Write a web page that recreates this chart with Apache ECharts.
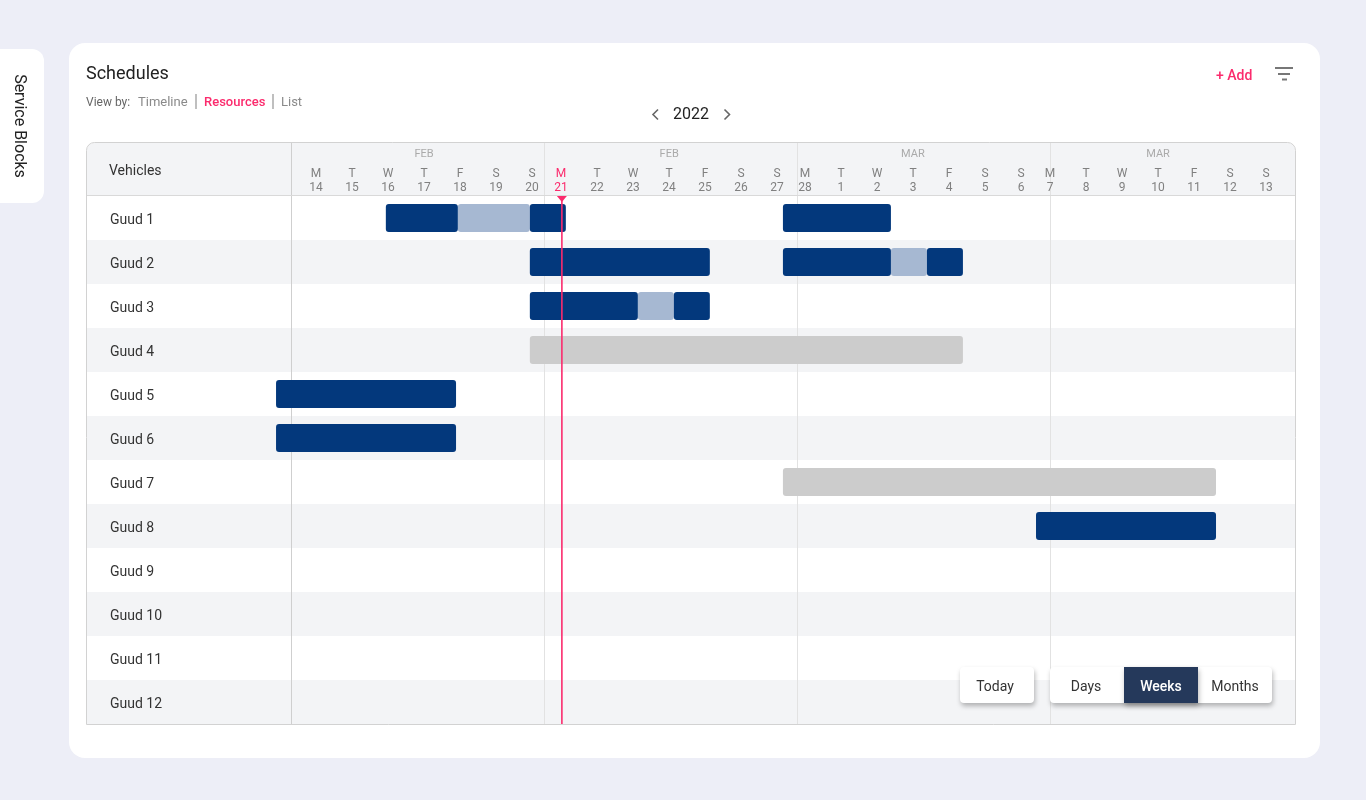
<!DOCTYPE html>
<html>
<head>
<meta charset="utf-8">
<title>Schedules</title>
<style>
  html, body { margin: 0; padding: 0; background: #edeef7; }
  #main { width: 1366px; height: 800px; }
</style>
<script src="https://cdn.jsdelivr.net/npm/echarts@6/dist/echarts.min.js"></script>
</head>
<body>
<div id="main"></div>
<script>
// rows
const vehicles = ['Guud 1', 'Guud 2', 'Guud 3', 'Guud 4', 'Guud 5', 'Guud 6', 'Guud 7', 'Guud 8', 'Guud 9', 'Guud 10', 'Guud 11', 'Guud 12'];

// header columns, one list per week
const weekDays = ['M', 'T', 'W', 'T', 'F', 'S', 'S'];
const dayNumbers = [
  [14, 15, 16, 17, 18, 19, 20],
  [21, 22, 23, 24, 25, 26, 27],
  [28, 1, 2, 3, 4, 5, 6],
  [7, 8, 9, 10, 11, 12, 13],
];
const monthNames = ['FEB', 'FEB', 'MAR', 'MAR'];

// segments: [row, from, to], time in days counted from monday the 14th
const bookedBars = [
  [0, 1.94, 3.94], [0, 5.94, 6.94], [0, 12.97, 15.97],
  [1, 5.94, 10.94], [1, 12.97, 15.97], [1, 16.97, 17.97],
  [2, 5.94, 8.94], [2, 9.94, 10.94],
  [4, -1.11, 3.89],
  [5, -1.11, 3.89],
  [7, 20, 25],
];
const gapBars = [
  [0, 3.94, 5.94],
  [1, 15.97, 16.97],
  [2, 8.94, 9.94],
];
const idleBars = [
  [3, 5.94, 17.97],
  [6, 12.97, 25],
];
const todayMarker = [6.83];

// the week columns are wider than seven days, so each one has its own start
const weekLines = [-0.695, 6.333, 13.361, 20.389];
const weekLabelStart = [0, 6.806, 13.583, 20.389];
const monthCenters = [3, 9.81, 16.58, 23.39];

const PINK = '#fb2b6d';
const FONT = 'Roboto';
const xMin = -6.361;
const xMax = 27.194;

const dayValues = [];
const dayLabels = {};
weekLabelStart.forEach(function (start, w) {
  weekDays.forEach(function (letter, i) {
    const v = start + i;
    dayValues.push(v);
    dayLabels[v] = letter + '\n' + dayNumbers[w][i];
  });
});
const monthLabels = {};
monthCenters.forEach(function (v, i) { monthLabels[v] = monthNames[i]; });

const chart = echarts.init(document.getElementById('main'));

function renderSegment(params, api) {
  const start = api.coord([api.value(1), api.value(0)]);
  const end = api.coord([api.value(2), api.value(0)]);
  const h = api.size([0, 1])[1] * 0.636;
  return {
    type: 'rect',
    shape: { x: start[0], y: start[1] - h / 2, width: end[0] - start[0], height: h, r: 3 },
    style: { fill: api.visual('color') },
  };
}

function renderToday(params, api) {
  const top = api.coord([api.value(0), 0]);
  const x = top[0];
  const y0 = params.coordSys.y;
  const y1 = params.coordSys.y + params.coordSys.height;
  return {
    type: 'group',
    children: [
      { type: 'line', shape: { x1: x, y1: y0, x2: x, y2: y1 }, style: { stroke: PINK, lineWidth: 1.6 } },
      { type: 'polygon', shape: { points: [[x - 5, y0], [x + 5, y0], [x, y0 + 6]] }, style: { fill: PINK } },
    ],
  };
}

function segmentSeries(name, data, color, z) {
  return {
    name: name,
    type: 'custom',
    xAxisIndex: 0,
    yAxisIndex: 0,
    renderItem: renderSegment,
    encode: { x: [1, 2], y: 0 },
    itemStyle: { color: color },
    data: data,
    z: z,
  };
}

// small helpers for the page furniture
function label(text, x, y, size, color, extra) {
  return {
    type: 'text',
    x: x,
    y: y + 1,
    z: 60,
    silent: true,
    style: Object.assign({
      text: text,
      fontFamily: FONT,
      fontSize: size,
      fill: color,
      verticalAlign: 'middle',
      textAlign: 'left',
    }, extra || {}),
  };
}

function bar(x1, y1, x2, y2, color, width) {
  return {
    type: 'line',
    z: 60,
    silent: true,
    shape: { x1: x1, y1: y1, x2: x2, y2: y2 },
    style: { stroke: color, lineWidth: width },
  };
}

function chevron(points) {
  return {
    type: 'polyline',
    z: 60,
    silent: true,
    shape: { points: points },
    style: { stroke: '#666', lineWidth: 1.6, fill: null },
  };
}

const buttonShadow = { shadowBlur: 5, shadowOffsetX: 1, shadowOffsetY: 3, shadowColor: 'rgba(0,0,0,0.28)' };

const tabTitle = label('Service Blocks', 19, 125, 16, '#222', { textAlign: 'center' });
tabTitle.rotation = -Math.PI / 2;

const graphics = [
  // left tab
  { type: 'rect', z: -5, silent: true, shape: { x: -20, y: 49, width: 64, height: 154, r: 12 }, style: { fill: '#fff' } },
  tabTitle,
  // card
  { type: 'rect', z: -5, silent: true, shape: { x: 69, y: 43, width: 1251, height: 715, r: 16 }, style: { fill: '#fff' } },
  // table header band
  { type: 'rect', z: -4, silent: true, shape: { x: 87, y: 143, width: 1208, height: 53, r: [8, 8, 0, 0] }, style: { fill: '#f3f4f6' } },
  // table frame
  { type: 'rect', z: 50, silent: true, shape: { x: 86.5, y: 142.5, width: 1209, height: 582, r: [8, 8, 0, 0] }, style: { fill: null, stroke: '#d2d2d2', lineWidth: 1 } },
  bar(87, 195.5, 1295, 195.5, '#d9d9d9', 1),

  label('Schedules', 86, 73, 18, '#222'),
  label('View by:', 86, 102, 12, '#666'),
  label('Timeline', 138, 102, 13, '#8a8a8a'),
  bar(196, 94, 196, 109, '#aaa', 1.5),
  label('Resources', 204, 102, 13, PINK, { fontWeight: 500 }),
  bar(273, 94, 273, 109, '#aaa', 1.5),
  label('List', 281, 102, 13, '#8a8a8a'),

  label('2022', 691, 114, 16, '#222', { textAlign: 'center' }),
  chevron([[658, 109.5], [653, 114.5], [658, 119.5]]),
  chevron([[724.5, 109.5], [729.5, 114.5], [724.5, 119.5]]),

  label('+ Add', 1216, 75, 14, PINK, { fontWeight: 500 }),
  bar(1275, 68, 1293, 68, '#777', 2),
  bar(1278, 74, 1290, 74, '#777', 2),
  bar(1282, 79.5, 1287, 79.5, '#777', 2),

  label('Vehicles', 109, 170, 14, '#333'),

  // bottom buttons
  { type: 'rect', z: 70, silent: true, shape: { x: 960, y: 667, width: 74, height: 36, r: 4 }, style: Object.assign({ fill: '#fff' }, buttonShadow) },
  { type: 'rect', z: 70, silent: true, shape: { x: 1050, y: 667, width: 222, height: 36, r: 4 }, style: Object.assign({ fill: '#fff' }, buttonShadow) },
  { type: 'rect', z: 71, silent: true, shape: { x: 1124, y: 667, width: 74, height: 36 }, style: Object.assign({ fill: '#25395b' }, buttonShadow) },
];
[['Today', 995, '#333', 400], ['Days', 1086, '#333', 400], ['Weeks', 1161, '#fff', 500], ['Months', 1235, '#333', 400]].forEach(function (b) {
  const t = label(b[0], b[1], 686, 14, b[2], { textAlign: 'center', fontWeight: b[3] });
  t.z = 72;
  graphics.push(t);
});

const weekSplitLine = {
  show: true,
  lineStyle: { color: ['#cfcfcf', '#e2e2e2', '#e2e2e2', '#e2e2e2'], width: 1 },
};

const option = {
  animation: false,
  backgroundColor: '#edeef7',
  textStyle: { fontFamily: FONT },
  graphic: graphics,
  grid: [
    { left: 87, top: 196, width: 1208, height: 528 }, // rows
    { left: 87, top: 143, width: 1208, height: 52 }, // header
  ],
  xAxis: [
    {
      type: 'value',
      gridIndex: 0,
      min: xMin,
      max: xMax,
      axisLine: { show: false },
      axisLabel: { show: false },
      axisTick: { show: false, customValues: weekLines },
      splitLine: weekSplitLine,
    },
    // day letters and numbers
    {
      type: 'value',
      gridIndex: 1,
      position: 'bottom',
      min: xMin,
      max: xMax,
      axisLine: { show: false },
      axisTick: { show: false, customValues: weekLines },
      splitLine: weekSplitLine,
      axisLabel: {
        inside: true,
        margin: 0,
        customValues: dayValues,
        fontFamily: FONT,
        fontSize: 12,
        lineHeight: 14,
        verticalAlign: 'bottom',
        color: function (v, i) { return i === 7 ? PINK : '#808080'; },
        formatter: function (v) { return dayLabels[v]; },
      },
    },
    // months
    {
      type: 'value',
      gridIndex: 1,
      position: 'top',
      min: xMin,
      max: xMax,
      axisLine: { show: false },
      axisTick: { show: false },
      splitLine: { show: false },
      axisLabel: {
        inside: true,
        margin: 6,
        customValues: monthCenters,
        fontFamily: FONT,
        fontSize: 11,
        color: '#aaaaaa',
        formatter: function (v) { return monthLabels[v]; },
      },
    },
  ],
  yAxis: [
    {
      type: 'category',
      gridIndex: 0,
      inverse: true,
      data: vehicles,
      axisLine: { show: false },
      axisTick: { show: false },
      splitLine: { show: false },
      splitArea: { show: true, areaStyle: { color: ['#ffffff', '#f3f4f6'] } },
      axisLabel: {
        inside: true,
        margin: 23,
        formatter: '{row|{value}}',
        rich: {
          row: {
            padding: [4, 0, 0, 0],
            fontFamily: FONT,
            fontSize: 14,
            color: '#333',
          },
        },
      },
    },
    { type: 'value', gridIndex: 1, min: 0, max: 1, show: false },
  ],
  series: [
    segmentSeries('gap', gapBars, '#a6b8d2', 5),
    segmentSeries('booked', bookedBars, '#03387c', 6),
    segmentSeries('idle', idleBars, '#cccccc', 6),
    {
      name: 'today',
      type: 'custom',
      xAxisIndex: 0,
      yAxisIndex: 0,
      renderItem: renderToday,
      encode: { x: 0 },
      data: todayMarker.map(function (v) { return [v]; }),
      z: 10,
    },
  ],
};

chart.setOption(option);
</script>
</body>
</html>
